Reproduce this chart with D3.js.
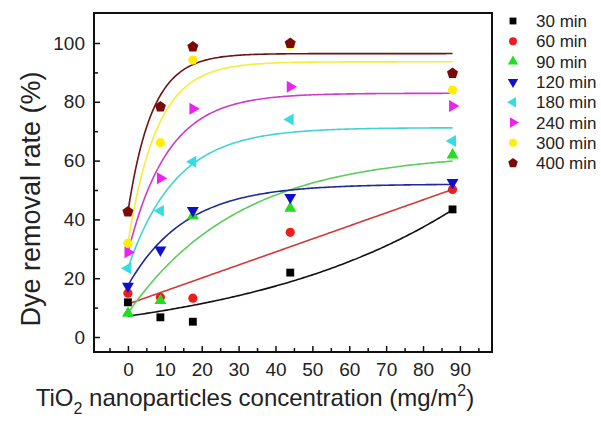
<!DOCTYPE html>
<html>
<head>
<meta charset="utf-8">
<script src="https://cdn.jsdelivr.net/npm/d3@7"></script>
<style>
  html, body { margin: 0; padding: 0; background: #fff; }
  svg { display: block; font-family: "Liberation Sans", Arial, sans-serif; }
</style>
</head>
<body>
<svg id="chart" width="601" height="421"></svg>
<script>
// TiO2 loading (mg/m2) at which removal was measured
const concentrations = [0, 8.8, 17.6, 44, 88];

// Removal rate (%) for each irradiation time
const seriesNames = ["30 min", "60 min", "90 min", "120 min", "180 min", "240 min", "300 min", "400 min"];
const removal30  = [11.8, 6.7, 5.2, 21.9, 43.4];
const removal60  = [14.9, 13.5, 13.2, 35.6, 50.2];
const removal90  = [8.1, 12.4, 41.2, 43.8, 61.9];
const removal120 = [17.3, 29.6, 43.0, 47.5, 52.6];
const removal180 = [23.4, 42.9, 59.6, 74.0, 66.7];
const removal240 = [28.8, 54.0, 77.6, 85.1, 78.6];
const removal300 = [31.9, 66.1, 94.2, 99.5, 84.0];
const removal400 = [42.6, 78.3, 98.7, 99.9, 89.7];
const removalSeries = [removal30, removal60, removal90, removal120, removal180, removal240, removal300, removal400];

// Fitted trend lines: "grow" = y0 + A*exp(x/t); "rise" = P - (P - start)*exp(-x/t); "line" = a + b*x
const fitKind   = ["grow", "line", "rise", "rise", "rise", "rise", "rise", "rise"];
const fitParamA = [-3.5, 11.2, 62.8, 52.0, 71.2, 82.9, 93.6, 96.4];   // y0 / intercept / plateau
const fitParamB = [10.6, 0.443, 8.1, 17.5, 23.4, 28.7, 31.9, 42.6];   // amplitude / slope / start value
const fitParamT = [59.3, 0, 30.2, 15.5, 13.0, 10.8, 7.9, 6.6];         // characteristic concentration

const yTicks = [0, 20, 40, 60, 80, 100];
const xTicks = [0, 10, 20, 30, 40, 50, 60, 70, 80, 90];

const markerColors = ["#000000", "#ee1c1c", "#22dd22", "#1010cc", "#33dde0", "#ee22ee", "#ffee00", "#7a0a0a"];
const lineColors   = ["#111111", "#d23a3a", "#5acc5a", "#1e2a9a", "#45d2d2", "#cc3ccc", "#f2ee3a", "#6a1414"];

const svg = d3.select("#chart");
const plotLeft = 94, plotRight = 492, plotTop = 13, plotBottom = 352;

const x = d3.scaleLinear().domain([-9.2, 98.7]).range([plotLeft, plotRight]);
const y = d3.scaleLinear().domain([-5.1, 110.2]).range([plotBottom, plotTop]);

// Frame
svg.append("rect")
  .attr("x", plotLeft).attr("y", plotTop)
  .attr("width", plotRight - plotLeft).attr("height", plotBottom - plotTop)
  .attr("fill", "none").attr("stroke", "#111").attr("stroke-width", 2);

// Axes with inward ticks
const axisY = d3.axisLeft(y).tickValues(yTicks).tickSize(-6).tickPadding(9).tickFormat(d3.format("d"));
const gy = svg.append("g").attr("transform", `translate(${plotLeft},0)`).call(axisY);
gy.select(".domain").remove();
gy.selectAll(".tick line").attr("stroke", "#111").attr("stroke-width", 1.5);
gy.selectAll(".tick text").attr("font-size", 19).attr("fill", "#222")
  .attr("font-family", "'Liberation Sans', Arial, sans-serif");
const axisYMinor = d3.axisLeft(y).tickValues(d3.range(10, 100, 20)).tickSize(-4).tickFormat("");
const gym = svg.append("g").attr("transform", `translate(${plotLeft},0)`).call(axisYMinor);
gym.select(".domain").remove();
gym.selectAll(".tick line").attr("stroke", "#111").attr("stroke-width", 1.5);

const axisX = d3.axisBottom(x).tickValues(xTicks).tickSize(-6).tickPadding(11).tickFormat(d3.format("d"));
const gx = svg.append("g").attr("transform", `translate(0,${plotBottom})`).call(axisX);
gx.select(".domain").remove();
gx.selectAll(".tick line").attr("stroke", "#111").attr("stroke-width", 1.5);
gx.selectAll(".tick text").attr("font-size", 19).attr("fill", "#222")
  .attr("font-family", "'Liberation Sans', Arial, sans-serif");
const axisXMinor = d3.axisBottom(x).tickValues(d3.range(-5, 96, 10)).tickSize(-4).tickFormat("");
const gxm = svg.append("g").attr("transform", `translate(0,${plotBottom})`).call(axisXMinor);
gxm.select(".domain").remove();
gxm.selectAll(".tick line").attr("stroke", "#111").attr("stroke-width", 1.5);

// Axis titles
svg.append("text")
  .attr("transform", `translate(40,199) rotate(-90)`)
  .attr("text-anchor", "middle")
  .attr("font-size", 27).attr("fill", "#222")
  .text("Dye removal rate (%)");

const xt = svg.append("text")
  .attr("x", 255).attr("y", 406)
  .attr("text-anchor", "middle")
  .attr("font-size", 24).attr("fill", "#222");
xt.append("tspan").text("TiO");
xt.append("tspan").attr("font-size", 16).attr("dy", 8).text("2");
xt.append("tspan").attr("dy", -8).text(" nanoparticles concentration (mg/m");
xt.append("tspan").attr("font-size", 16).attr("dy", -10).text("2");
xt.append("tspan").attr("dy", 10).text(")");

// Fitted curves
function fitValue(i, c) {
  const a = fitParamA[i], b = fitParamB[i], t = fitParamT[i];
  if (fitKind[i] === "line") return a + b * c;
  if (fitKind[i] === "grow") return a + b * Math.exp(c / t);
  return a - (a - b) * Math.exp(-c / t);
}
const curveX = d3.range(0, 88.01, 0.5);
const line = d3.line().x(d => x(d[0])).y(d => y(d[1]));
seriesNames.forEach((name, i) => {
  svg.append("path")
    .datum(curveX.map(c => [c, fitValue(i, c)]))
    .attr("d", line)
    .attr("fill", "none")
    .attr("stroke", lineColors[i])
    .attr("stroke-width", 1.6);
});

// Marker shapes
const pentagon = {
  draw(context, size) {
    const r = Math.sqrt(size / 2.3776);
    for (let k = 0; k < 5; k++) {
      const ang = -Math.PI / 2 + k * 2 * Math.PI / 5;
      const px = r * Math.cos(ang), py = r * Math.sin(ang);
      if (k === 0) context.moveTo(px, py); else context.lineTo(px, py);
    }
    context.closePath();
  }
};
const shapeTypes = [d3.symbolSquare, d3.symbolCircle, d3.symbolTriangle, d3.symbolTriangle,
                    d3.symbolTriangle, d3.symbolTriangle, d3.symbolCircle, pentagon];
const shapeRotate = [0, 0, 0, 180, -90, 90, 0, 0];
const shapeSize   = [62, 66, 62, 62, 62, 62, 66, 80];

function drawMarker(g, i, cx, cy, scale) {
  g.append("path")
    .attr("d", d3.symbol().type(shapeTypes[i]).size(shapeSize[i] * scale)())
    .attr("transform", `translate(${cx},${cy}) rotate(${shapeRotate[i]})`)
    .attr("fill", markerColors[i]);
}

const markers = svg.append("g");
removalSeries.forEach((vals, i) => {
  vals.forEach((v, j) => drawMarker(markers, i, x(concentrations[j]), y(v), 1));
});

// Legend
const legend = svg.append("g");
seriesNames.forEach((name, i) => {
  const ly = 21 + i * 20.3;
  drawMarker(legend, i, 513, ly, 0.75);
  legend.append("text")
    .attr("x", 536).attr("y", ly + 6)
    .attr("font-size", 17).attr("fill", "#222")
    .text(name);
});
</script>
</body>
</html>
